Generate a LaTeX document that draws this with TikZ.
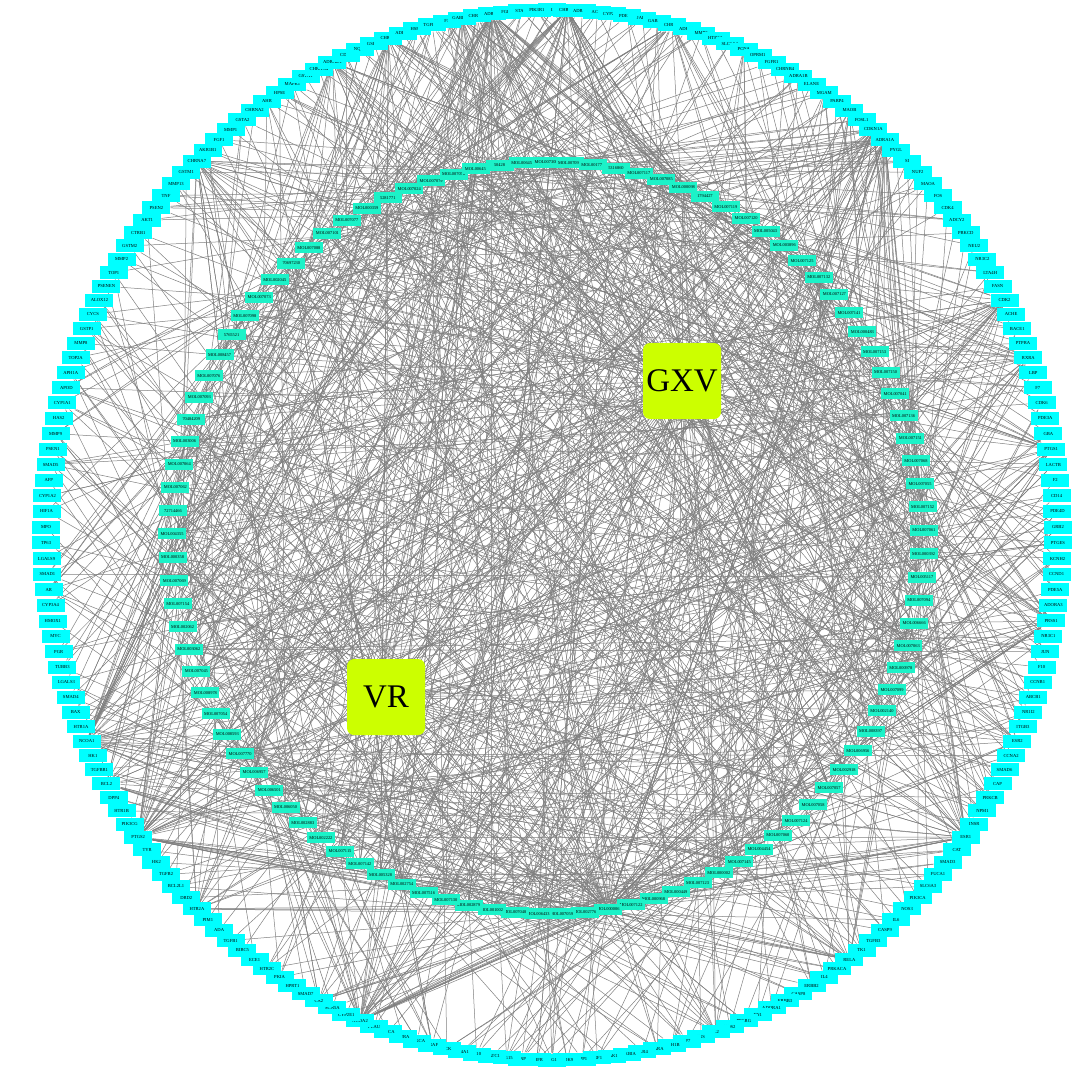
\documentclass[tikz,border=0pt]{standalone}
\usepackage{fontspec}
\setmainfont{Liberation Serif}
\usetikzlibrary{backgrounds}
\definecolor{outc}{RGB}{0,255,255}
\definecolor{innc}{RGB}{28,242,200}
\definecolor{herbc}{RGB}{204,255,0}
\definecolor{edgec}{RGB}{128,128,128}
\tikzset{
 onode/.style={rectangle,fill=outc,minimum width=28pt,minimum height=13pt,inner sep=0pt,font=\fontsize{4.6}{5}\selectfont},
 inode/.style={rectangle,fill=innc,minimum width=28pt,minimum height=11pt,inner sep=0pt,font=\fontsize{4.4}{5}\selectfont},
 herb/.style={rectangle,rounded corners=7pt,fill=herbc,minimum width=78pt,minimum height=76pt,inner sep=0pt,font=\fontsize{33}{36}\selectfont},
 edgeln/.style={draw=edgec,line width=0.5pt},
}
\begin{document}
\begin{tikzpicture}[x=1pt,y=-1pt]
\useasboundingbox (0,0) rectangle (1084,1070);
% outer ring: targets
\foreach \lab [count=\ii] in {GABRA2, CHRM3, ADRA2C, ACP1, CYP2C19, PDE10A, JAK2, GABRA3, CHRM4, ADRB3,
 MMP3, HTR3A, SLC6A4, PCNA, OPRM1, FGFR1, CHRNB4, ADRA1B, ELANE, MGAM,
 PARP4, MAOB, FOSL1, CDKN1A, ADRA1A, PYGL, SI, NUF2, MAOA, FOS,
 CDK4, ADCY2, PRKCD, NEU2, NR3C2, LTA4H, FASN, CDK2, ACHE, BACE1,
 PTPRA, RXRA, LBP, F7, CDK6, PDE3A, GBA, PTGS1, LACTB, F2,
 CD14, PDE4D, GRB2, PTGES, KCNH2, CCND1, PDE5A, ADORA3, PRSS1, NR3C1,
 JUN, F10, CCNB1, ABCB1, NR1I2, ITGB3, ESR2, CCNA2, SMAD6, CAP,
 PRKCB, NPM1, INSR, ESR1, CAT, SMAD3, FUCA1, SLC6A3, PIK3CA, NOS3,
 IL6, CASP9, TGFB3, TK1, RELA, PRKACA, IL4, ERBB2, CASP8, ERBB3,
 ADORA1, FN1, PPARG, NOS2, IL2, INS, SP7, ADH1B, RARA, TLR4,
 NFKBIA, JAK1, IRF1, SPP1, CDK9, LIG1, DHFR, PNP, ISG15, NFATC1,
 IL10, NR4A1, LCK, BRAF, PRKCA, IL2RA, SNCA, PLAU, NCOA2, CYP2E1,
 SCN5A, CA2, SMAD7, HPRT1, PKIA, HTR2C, ECE1, BIRC5, TGFB1, ADA,
 PIM1, HTR2A, DRD2, BCL2L1, TGFB2, HK2, TYR, PTGS2, PIK3CG, HTR1B,
 DPP4, BCL2, TGFBR1, HK1, NCOA1, HTR1A, BAX, SMAD4, LGALS3, TUBB3,
 PGR, MYC, HMOX1, CYP3A4, AR, SMAD1, LGALS9, TP63, MPO, HIF1A,
 CYP1A2, AFP, SMAD5, PSEN1, MMP9, HAS2, CYP1A1, APOD, APH1A, TOP2A,
 MMP8, GSTP1, CYCS, ALOX12, PSENEN, TOP1, MMP2, GSTM2, CTRB1, AKT1,
 PSEN2, TNF, MMP13, GSTM1, CHRNA7, AKR1B1, FGF1, MMP1, GSTA2, CHRNA2,
 AHR, HPSE, MAPK1, GSTA1, CHRNA4, ADRA2A, CDK1, NQO1, GSK3B, CHRM1,
 ADRB1, HSPA2, TGFBR2, F3, GABRA1, CHRM2, ADRB2, FGF2, STAT3, PIK3R1}{
  \pgfmathsetmacro\ang{90-1.7142857*(\ii-1)}
  \node[onode] (o\ii) at ({552+506*cos(\ang)},{535-525*sin(\ang)}) {\lab};
}
% inner ring: compounds
\foreach \lab [count=\ii] in {MOL007093, MOL007076, MOL008457, 5765521, MOL007098, MOL007073, MOL002045, 70697230, MOL007088, MOL007101,
 MOL007077, MOL000359, 5281771, MOL007024, MOL007079, MOL007078, MOL006459, 50428, MOL006457, MOL007308,
 MOL007092, MOL001771, 5316860, MOL007117, MOL007085, MOL000098, 1794427, MOL007119, MOL007120, MOL005043,
 MOL003896, MOL007125, MOL007132, MOL007127, MOL007141, MOL000483, MOL007153, MOL007150, MOL007041, MOL007136,
 MOL007151, MOL007068, MOL007055, MOL007152, MOL007061, MOL000392, MOL005117, MOL007094, MOL006666, MOL007063,
 MOL000978, MOL007099, MOL002140, MOL008397, MOL006956, MOL002918, MOL007057, MOL007058, MOL007124, MOL007060,
 MOL004454, MOL007145, MOL000002, MOL007123, MOL000449, MOL000968, MOL007122, MOL000006, MOL002776, MOL007059,
 MOL006433, MOL007048, MOL001002, MOL002879, MOL007130, MOL007516, MOL002754, MOL005328, MOL007142, MOL007115,
 MOL002222, MOL002883, MOL006050, MOL006501, MOL006957, MOL007770, MOL008593, MOL007054, MOL008978, MOL007045,
 MOL003062, MOL002062, MOL007154, MOL007069, MOL000358, MOL004355, 72714466, MOL007062, MOL007064, MOL003006, 70484209}{
  \pgfmathsetmacro\ang{158-3.5643564*(\ii-1)}
  \node[inode] (c\ii) at ({548+376*cos(\ang)},{538-376*sin(\ang)}) {\lab};
}
% herbs
\node[herb] (gxv) at (682,381) {GXV};
\node[herb] (vr) at (386,697) {VR};
% edges
\begin{pgfonlayer}{background}
\fill[white] (0,0) rectangle (1084,1070);
\pgfmathsetseed{20231}
\foreach \cc in {1,...,101}{
  \pgfmathtruncatemacro\kk{random(6,15)+(\cc==68)*55+(\cc==26)*22+(\cc==42)*12+(\cc==85)*12+(\cc==12)*10}
  \foreach \jj in {1,...,\kk}{
    \pgfmathtruncatemacro\rr{random(1,100)}
    \ifnum\rr<40
      \pgfmathtruncatemacro\tg{{185,138,48,119,74,25,145,200,207,206,2,9,196,59,122,142,132,42,24,67,85,155,38,205,185,138,119,74,145,25,207,2}[random(0,31)]}
    \else
      \pgfmathtruncatemacro\tg{random(1,210)}
    \fi
    \draw[edgeln] (c\cc) -- (o\tg);
  }
  \pgfmathtruncatemacro\hh{random(1,100)}
  \ifnum\hh<49
    \draw[edgeln] (c\cc) -- (gxv);
  \else
    \ifnum\hh<93
      \draw[edgeln] (c\cc) -- (vr);
    \else
      \draw[edgeln] (c\cc) -- (gxv);
      \draw[edgeln] (c\cc) -- (vr);
    \fi
  \fi
}
\end{pgfonlayer}
\end{tikzpicture}
\end{document}
